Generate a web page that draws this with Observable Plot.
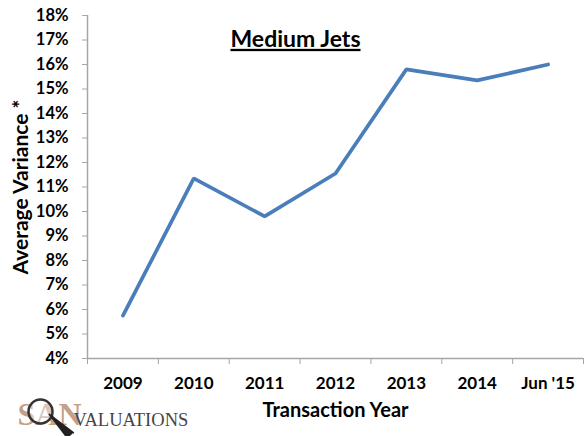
<!DOCTYPE html>
<html><head><meta charset="utf-8">
<script src="https://cdn.jsdelivr.net/npm/d3@7"></script>
<script src="https://cdn.jsdelivr.net/npm/@observablehq/plot@0.6"></script>
<style>body{margin:0;background:#fff}</style>
</head><body><div id="chart"></div>
<script>
const categories = ["2009", "2010", "2011", "2012", "2013", "2014", "Jun '15"];
const values = [5.75, 11.35, 9.8, 11.55, 15.8, 15.35, 16.0];
const yTicks = [4, 5, 6, 7, 8, 9, 10, 11, 12, 13, 14, 15, 16, 17, 18];
const title = "Medium Jets";
const xLabel = "Transaction Year";
const yLabel = "Average Variance *";
const logoA = "SAN";
const logoB = "VALUATIONS";

const data = categories.map((c, i) => ({i, c, v: values[i]}));
const centers = categories.map((c, i) => i);
const boundaries = d3.range(categories.length + 1).map(i => i - 0.5);
const axisColor = "#a6a6a6";

const chart = Plot.plot({
  width: 584, height: 436,
  marginLeft: 87, marginRight: 1, marginTop: 15, marginBottom: 78,
  style: {fontFamily: "Lato", fontWeight: "bold", color: "#000", background: "#fff"},
  x: {type: "linear", domain: [-0.5, categories.length - 0.5]},
  y: {domain: [4, 18]},
  marks: [
    Plot.ruleY([4], {stroke: axisColor, strokeWidth: 1.5}),
    Plot.ruleX([-0.5], {stroke: axisColor, strokeWidth: 1.5}),
    Plot.axisY({ticks: yTicks, tickFormat: d => d + "%", tickSize: 5, tickPadding: 14,
      stroke: axisColor, fill: "#000", fontSize: 16.5, label: null}),
    Plot.axisX({ticks: boundaries, tickFormat: () => "", tickSize: 6, stroke: axisColor, label: null}),
    Plot.axisX({ticks: centers, tickFormat: i => categories[i], tickSize: 0, tickPadding: 18,
      fill: "#000", fontSize: 17, label: null}),
    Plot.line(data, {x: "i", y: "v", stroke: "#4a7ebb", strokeWidth: 3.7, strokeLinejoin: "miter"}),
    Plot.text([title], {frameAnchor: "top", dx: -40, dy: 15, fontSize: 23, fontWeight: "bold", fill: "#000", className: "ttl"}),
    Plot.text([xLabel], {frameAnchor: "bottom", dy: 58, fontSize: 20, fontWeight: "bold", fill: "#000"}),
    Plot.text([yLabel], {frameAnchor: "left", textAnchor: "middle", dx: -66, rotate: -90, fontSize: 21, fontWeight: "bold", fill: "#000"}),
    Plot.text([logoA], {frameAnchor: "bottom-left", dx: -70, dy: 66, textAnchor: "start", fontSize: 32,
      fontFamily: "Liberation Serif", fontWeight: "bold", fill: "#b98f72", fillOpacity: 0.85}),
    Plot.dot([0], {frameAnchor: "bottom-left", dx: -47, dy: 53, r: 12, stroke: "#333", strokeWidth: 2.5, fill: "#fff", fillOpacity: 0.4}),
    Plot.vector([0], {frameAnchor: "bottom-left", dx: -17, dy: 77, length: 30, rotate: 315, anchor: "start",
      shape: "spike", r: 4, fill: "#222", stroke: "#222"}),
    Plot.text([logoB], {frameAnchor: "bottom-left", dx: -14, dy: 67, textAnchor: "start", fontSize: 18.5,
      fontFamily: "Liberation Serif", fontWeight: "normal", fill: "#444"})
  ]
});
d3.select(chart).selectAll(".ttl text").style("text-decoration", "underline");
document.getElementById("chart").appendChild(chart);
</script>
</body></html>
